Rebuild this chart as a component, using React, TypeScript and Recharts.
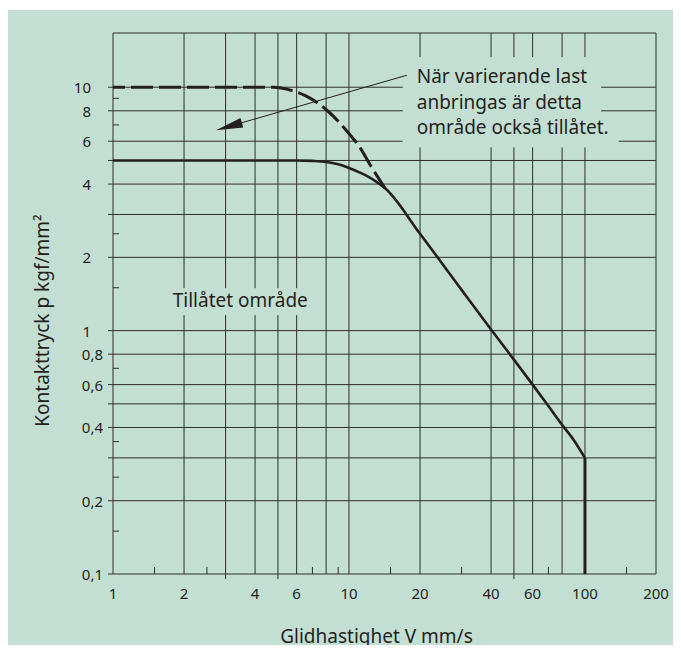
import {
  CartesianGrid,
  Line,
  LineChart,
  ReferenceArea,
  ReferenceLine,
  XAxis,
  YAxis,
} from "recharts";

const BG = "#c3dfd3";
const INK = "#231f20";
const GRID = "#2e2e2e";
const FONT = "'Noto Sans', 'Open Sans', sans-serif";

const X_MIN = 1;
const X_MAX = 200;
const Y_MIN = 0.1;
const Y_MAX = 16.7;

// x axis (Glidhastighet V mm/s)
const xLabelTicks = [1, 2, 4, 6, 10, 20, 40, 60, 100, 200];
const xMinorTicks = [1.5, 2.5, 7, 9, 15, 30, 70, 150];
const xStubTicks = [3, 5, 50];
const xGridLines = [1, 2, 3, 4, 5, 6, 8, 10, 20, 40, 50, 60, 80, 100, 200];

// y axis (Kontakttryck p kgf/mm²)
const yLabelTicks = [0.1, 0.2, 0.4, 0.6, 0.8, 1, 2, 4, 6, 8, 10];
const yMinorTicks = [0.15, 0.25, 0.35, 0.7, 1.5, 2.5, 7, 9];
const yFullLines = [0.1, 0.2, 0.3, 0.4, 0.5, 0.6, 0.8, 1, 2, 3, 4, 5, 6, 8, 10];

// tillåtet område, gränskurva
const solidCurve = [
  { v: 1, p: 5 },
  { v: 6, p: 5 },
  { v: 7, p: 4.98 },
  { v: 8, p: 4.93 },
  { v: 9, p: 4.82 },
  { v: 10, p: 4.66 },
  { v: 11, p: 4.48 },
  { v: 12, p: 4.3 },
  { v: 13, p: 4.1 },
  { v: 14.2, p: 3.85 },
  { v: 20, p: 2.5 },
  { v: 30, p: 1.47 },
  { v: 40, p: 1.01 },
  { v: 50, p: 0.76 },
  { v: 60, p: 0.6 },
  { v: 70, p: 0.49 },
  { v: 80, p: 0.41 },
  { v: 90, p: 0.353 },
  { v: 100, p: 0.3 },
];

const cutoff = [
  { v: 100, p: 0.3 },
  { v: 100, p: 0.1 },
];

// varierande last
const dashedCurve = [
  { v: 1, p: 10 },
  { v: 4.8, p: 10 },
  { v: 5.5, p: 9.8 },
  { v: 6.5, p: 9.25 },
  { v: 8, p: 8.1 },
  { v: 10, p: 6.45 },
  { v: 11, p: 5.75 },
  { v: 12.5, p: 4.67 },
  { v: 13.5, p: 4.15 },
  { v: 14.2, p: 3.85 },
];

const calloutLines = ["När varierande last", "anbringas är detta", "område också tillåtet."];
const areaText = "Tillåtet område";

const fmt = (v: number) => String(v).replace(".", ",");

function YTick(props: any) {
  const { x, y, payload } = props;
  const v = payload.value as number;
  if (yMinorTicks.includes(v)) {
    return <line x1={x} x2={x + 6} y1={y} y2={y} stroke={GRID} />;
  }
  return (
    <g>
      <line x1={x - 5} x2={x} y1={y} y2={y} stroke={GRID} />
      {yLabelTicks.includes(v) && (
        <text
          x={x - (v < 1 ? 10 : 22)}
          y={y}
          textAnchor="end"
          dominantBaseline="central"
          fontFamily={FONT}
          fontSize={15}
          fill={INK}
        >
          {fmt(v)}
        </text>
      )}
    </g>
  );
}

function XTick(props: any) {
  const { x, y, payload } = props;
  const v = payload.value as number;
  if (xMinorTicks.includes(v)) {
    return <line x1={x} x2={x} y1={y} y2={y - 7} stroke={GRID} />;
  }
  return (
    <g>
      {xStubTicks.includes(v) && <line x1={x} x2={x} y1={y} y2={y + 5} stroke={GRID} />}
      {xLabelTicks.includes(v) && (
        <text
          x={x}
          y={y + 19}
          textAnchor="middle"
          dominantBaseline="central"
          fontFamily={FONT}
          fontSize={15}
          fill={INK}
        >
          {fmt(v)}
        </text>
      )}
    </g>
  );
}

function Arrow(props: any) {
  const { x1, y1, x2, y2 } = props;
  const dx = x2 - x1;
  const dy = y2 - y1;
  const len = Math.sqrt(dx * dx + dy * dy);
  const ux = dx / len;
  const uy = dy / len;
  const head = 27;
  const half = 5;
  const bx = x2 - ux * head;
  const by = y2 - uy * head;
  return (
    <g>
      <line x1={x1} y1={y1} x2={bx} y2={by} stroke={INK} strokeWidth={1} />
      <polygon
        points={`${x2},${y2} ${bx - uy * half},${by + ux * half} ${bx + uy * half},${by - ux * half}`}
        fill={INK}
      />
    </g>
  );
}

function Callout(props: any) {
  const { x, y, width, height } = props;
  return (
    <g>
      <rect x={x} y={y} width={width} height={height} fill={BG} />
      {calloutLines.map((t, i) => (
        <text
          key={t}
          x={x + 14}
          y={y + 26 + i * 25.5}
          fontFamily={FONT}
          fontSize={19}
          fill={INK}
        >
          {t}
        </text>
      ))}
    </g>
  );
}

function AreaNote(props: any) {
  const { x, y, width, height } = props;
  return (
    <g>
      <rect x={x} y={y} width={width} height={height} fill={BG} />
      <text x={x + 3} y={y + 19} fontFamily={FONT} fontSize={19} fill={INK}>
        {areaText}
      </text>
    </g>
  );
}

export default function App() {
  return (
    <div style={{ position: "relative", width: 681, height: 653, margin: -8, background: "#fff" }}>
      <div style={{ position: "absolute", left: 7, top: 10, right: 0, bottom: 0, background: BG }} />
      <div style={{ position: "absolute", left: 0, top: 0 }}>
        <LineChart width={681} height={653} margin={{ top: 33, right: 25, bottom: 0, left: 0 }}>
          <YAxis
            yAxisId="g"
            type="number"
            scale="log"
            domain={[Y_MIN, Y_MAX]}
            ticks={[...yFullLines, Y_MAX]}
            interval={0}
            allowDataOverflow
            hide
          />
          <CartesianGrid yAxisId="g" vertical={false} stroke={GRID} strokeWidth={1} />

          <XAxis
            dataKey="v"
            type="number"
            scale="log"
            domain={[X_MIN, X_MAX]}
            allowDataOverflow
            ticks={[...xLabelTicks, ...xMinorTicks, ...xStubTicks].sort((a, b) => a - b)}
            interval={0}
            tick={<XTick />}
            tickLine={false}
            axisLine={false}
            tickSize={0}
            tickMargin={0}
            height={79}
            label={(p: any) => {
              const vb = p.viewBox;
              return (
                <text
                  x={vb.x + vb.width / 2 - 8}
                  y={vb.y + 62}
                  textAnchor="middle"
                  dominantBaseline="central"
                  fontFamily={FONT}
                  fontSize={19}
                  fill={INK}
                >
                  Glidhastighet V mm/s
                </text>
              );
            }}
          />
          <YAxis
            type="number"
            scale="log"
            domain={[Y_MIN, Y_MAX]}
            allowDataOverflow
            ticks={[...yFullLines, ...yMinorTicks].sort((a, b) => a - b)}
            interval={0}
            tick={<YTick />}
            tickLine={false}
            axisLine={false}
            tickSize={0}
            tickMargin={0}
            width={113}
            label={(p: any) => {
              const vb = p.viewBox;
              const cx = vb.x + 42;
              const cy = vb.y + vb.height / 2 + 17;
              return (
                <text
                  x={cx}
                  y={cy}
                  textAnchor="middle"
                  dominantBaseline="central"
                  transform={`rotate(-90, ${cx}, ${cy})`}
                  fontFamily={FONT}
                  fontSize={19}
                  fill={INK}
                >
                  Kontakttryck p kgf/mm²
                </text>
              );
            }}
          />

          {xGridLines.map((v) => (
            <ReferenceLine key={`vx-${v}`} x={v} stroke={GRID} strokeWidth={1} zIndex={-50} />
          ))}

          <ReferenceArea x1={16.9} x2={139} y1={5.67} y2={7.18} fill={BG} fillOpacity={1} stroke="none" zIndex={50} />
          <ReferenceArea x1={16.9} x2={117} y1={5.67} y2={13.3} shape={(p: any) => <Callout {...p} />} zIndex={50} />
          <ReferenceArea x1={1.74} x2={6.97} y1={1.158} y2={1.494} shape={(p: any) => <AreaNote {...p} />} zIndex={50} />

          <Line
            data={dashedCurve}
            dataKey="p"
            type="monotone"
            stroke={INK}
            strokeWidth={3}
            strokeDasharray="22 6"
            strokeDashoffset={10}
            dot={false}
            activeDot={false}
            isAnimationActive={false}
          />
          <Line
            data={solidCurve}
            dataKey="p"
            type="monotone"
            stroke={INK}
            strokeWidth={2.6}
            dot={false}
            activeDot={false}
            isAnimationActive={false}
          />
          <Line
            data={cutoff}
            dataKey="p"
            type="linear"
            stroke={INK}
            strokeWidth={3}
            dot={false}
            activeDot={false}
            isAnimationActive={false}
          />

          <ReferenceLine
            segment={[
              { x: 17.6, y: 11.2 },
              { x: 2.73, y: 6.66 },
            ]}
            shape={(p: any) => <Arrow {...p} />}
            zIndex={450}
          />
        </LineChart>
      </div>
    </div>
  );
}
